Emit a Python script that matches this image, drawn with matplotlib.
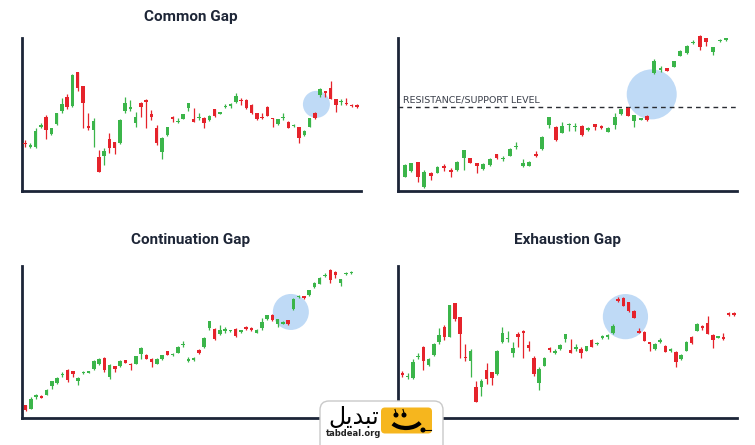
import matplotlib
matplotlib.use('Agg')
import matplotlib.pyplot as plt
from matplotlib.patches import Ellipse, FancyBboxPatch, Circle, Arc
import numpy as np

# ---- data (price units are arbitrary) ----
# Common Gap
common_open = [145, 133, 131, 193, 223, 170, 200, 240, 283, 255, 357, 315, 193, 183, 103, 105,
               155, 148, 143, 240, 247, 205, 263, 273, 230, 190, 116, 168, 221, 207, 217, 248,
               216, 218, 219, 213, 245, 232, 252, 255, 266, 273, 273, 258, 233, 221, 251, 218,
               200, 219, 208, 195, 191, 168, 193, 233, 288, 301, 308, 275, 267, 265, 259, 256]
common_high = [153, 145, 188, 205, 228, 190, 235, 280, 290, 351, 357, 315, 233, 218, 123, 128,
               175, 148, 215, 283, 273, 238, 268, 275, 243, 198, 163, 193, 225, 218, 232, 263,
               248, 233, 223, 228, 247, 238, 261, 263, 293, 278, 275, 260, 235, 235, 255, 218,
               217, 233, 210, 201, 191, 182, 220, 236, 308, 301, 331, 275, 275, 278, 261, 260]
common_low = [133, 128, 128, 188, 155, 168, 198, 233, 245, 253, 301, 190, 183, 133, 58, 78,
              113, 111, 141, 235, 240, 193, 223, 190, 213, 138, 95, 166, 208, 203, 215, 240,
              207, 213, 190, 211, 223, 230, 248, 248, 263, 258, 246, 231, 214, 217, 225, 191,
              198, 213, 188, 191, 145, 166, 191, 216, 283, 283, 277, 238, 258, 258, 253, 250]
common_close = [141, 137, 180, 198, 183, 188, 233, 261, 253, 349, 308, 263, 190, 211, 58, 121,
                128, 130, 213, 265, 251, 221, 253, 267, 221, 143, 158, 191, 215, 211, 230, 263,
                207, 223, 205, 226, 225, 236, 254, 260, 285, 269, 248, 233, 216, 218, 225, 215,
                215, 223, 190, 198, 160, 180, 218, 218, 305, 295, 277, 258, 270, 261, 255, 253]

# Breakaway gap (resistance / support)
level_open = [42, 59, 85, 12, 52, 54, 75, 62, 62, 97, 97, 82, 65, 77, 109, 95, 105, 130,
              74, 75, 109, 125, 197, 192, 174, 196, 191, 194, 182, 199, 195, 177, 197, 229,
              247, 210, 213, 224, 352, 362, 367, 372, 405, 412, 442, 464, 457, 417, 449, 452]
level_high = [79, 84, 87, 62, 57, 74, 80, 67, 89, 122, 99, 84, 82, 97, 111, 104, 127, 147,
              94, 89, 120, 164, 222, 194, 207, 204, 204, 196, 191, 199, 197, 191, 232, 246,
              250, 227, 219, 226, 394, 374, 369, 390, 422, 436, 452, 467, 457, 432, 454, 459]
level_low = [40, 57, 27, 7, 32, 52, 60, 42, 60, 62, 82, 52, 63, 75, 95, 90, 103, 125,
             72, 73, 102, 123, 187, 150, 172, 180, 180, 165, 180, 182, 186, 175, 184, 227,
             223, 192, 211, 210, 350, 357, 358, 370, 403, 410, 439, 422, 435, 407, 447, 450]
level_close = [77, 82, 42, 57, 44, 72, 67, 57, 87, 122, 84, 74, 80, 95, 97, 99, 125, 135,
               84, 87, 104, 162, 222, 152, 194, 200, 194, 167, 189, 192, 188, 189, 220, 244,
               225, 227, 217, 212, 389, 367, 360, 388, 420, 434, 445, 430, 447, 432, 452, 457]
resistance = 250

# Continuation Gap
cont_open = [39, 29, 64, 67, 71, 97, 106, 129, 144, 141, 111, 136, 137, 147, 162, 181, 124,
             156, 157, 174, 164, 164, 192, 191, 179, 164, 177, 201, 189, 197, 219, 172, 174,
             204, 214, 272, 269, 252, 261, 261, 269, 259, 274, 271, 257, 271, 297, 311, 284,
             284, 294, 327, 364, 366, 369, 394, 404, 427, 444, 439, 407, 433, 435]
cont_high = [41, 64, 74, 69, 88, 113, 124, 139, 149, 143, 123, 141, 143, 174, 181, 183, 163,
             158, 174, 176, 166, 188, 214, 193, 181, 181, 191, 203, 195, 216, 231, 184, 184,
             209, 243, 293, 271, 281, 274, 266, 271, 266, 276, 273, 268, 301, 311, 313, 299,
             291, 296, 361, 371, 368, 386, 409, 423, 437, 447, 441, 419, 438, 441]
cont_low = [22, 27, 59, 60, 69, 89, 104, 124, 109, 124, 99, 134, 135, 145, 160, 139, 119,
            139, 155, 165, 146, 162, 179, 177, 154, 162, 175, 189, 187, 195, 214, 170, 172,
            194, 212, 264, 235, 250, 257, 259, 245, 257, 265, 262, 255, 264, 295, 292, 274,
            282, 280, 325, 361, 359, 367, 392, 402, 425, 407, 421, 397, 431, 433]
cont_close = [24, 59, 69, 62, 86, 111, 122, 132, 114, 134, 121, 139, 141, 172, 179, 144, 161,
              149, 172, 167, 159, 186, 212, 179, 169, 179, 189, 191, 193, 214, 224, 179, 182,
              197, 241, 291, 237, 266, 267, 264, 247, 264, 267, 264, 266, 289, 309, 294, 297,
              289, 282, 357, 367, 361, 384, 407, 421, 431, 414, 429, 417, 436, 439]

# Exhaustion Gap
exh_open = [135, 123, 121, 183, 213, 160, 190, 230, 273, 245, 347, 305, 183, 173, 93, 95,
            145, 138, 133, 230, 237, 195, 253, 263, 220, 180, 106, 158, 211, 197, 207, 238,
            206, 208, 209, 203, 235, 222, 242, 245, 256, 357, 362, 348, 322, 260, 260, 227,
            208, 230, 217, 203, 200, 178, 203, 243, 263, 278, 285, 250, 242, 243, 315, 315]
exh_high = [143, 135, 178, 195, 218, 180, 225, 270, 280, 341, 347, 305, 223, 208, 113, 118,
            165, 138, 205, 273, 263, 228, 258, 265, 233, 188, 153, 183, 215, 208, 222, 253,
            238, 223, 213, 218, 237, 228, 251, 253, 283, 365, 365, 350, 324, 270, 263, 227,
            225, 242, 219, 210, 202, 192, 232, 248, 285, 280, 308, 252, 247, 255, 318, 318]
exh_low = [123, 118, 118, 178, 145, 158, 188, 223, 235, 243, 291, 180, 173, 123, 48, 68,
           103, 101, 131, 225, 230, 183, 213, 180, 203, 128, 85, 156, 198, 193, 205, 230,
           197, 203, 180, 201, 213, 220, 238, 238, 253, 348, 336, 320, 300, 255, 231, 203,
           206, 225, 198, 200, 155, 176, 201, 223, 261, 265, 253, 210, 240, 235, 307, 307]
exh_close = [131, 127, 170, 188, 173, 178, 223, 251, 243, 339, 298, 253, 180, 201, 48, 111,
             118, 120, 203, 255, 241, 211, 243, 257, 211, 133, 148, 181, 205, 201, 220, 253,
             197, 213, 195, 216, 215, 226, 244, 250, 278, 353, 338, 322, 302, 257, 233, 224,
             223, 235, 200, 207, 168, 190, 230, 225, 283, 270, 253, 235, 245, 237, 310, 311]

# ---- style ----
W, H = 755, 445
GREEN = '#3BB54A'
RED = '#E5232B'
NAVY = '#1C2538'
BLUE = '#BFDAF6'

fig = plt.figure(figsize=(W / 100, H / 100), dpi=100)
fig.patch.set_facecolor('white')


def add_panel(left, right, bottom, xlim, spine_h):
    ax = fig.add_axes([left / W, 1 - bottom / H, (right - left) / W, 160 / H])
    ax.set_xlim(*xlim)
    ax.set_ylim(0, 480)
    ax.patch.set_alpha(0)
    for s in ['top', 'right']:
        ax.spines[s].set_visible(False)
    for s in ['left', 'bottom']:
        ax.spines[s].set_color(NAVY)
        ax.spines[s].set_linewidth(2)
    ax.spines['left'].set_bounds(0, spine_h)
    ax.set_xticks([])
    ax.set_yticks([])
    return ax


def candles(ax, o, h, l, c, width):
    o, h, l, c = map(np.asarray, (o, h, l, c))
    x = np.arange(len(o))
    cols = np.where(c >= o, GREEN, RED)
    ax.vlines(x, l, h, colors=cols, linewidth=0.9, zorder=2)
    body = np.maximum(np.abs(c - o), 4)
    ax.bar(x, body, bottom=np.minimum(o, c), width=width, color=cols, linewidth=0, zorder=3)


def gap_circle(ax, xc, yc, r_px, spacing_px):
    ax.add_patch(Ellipse((xc, yc), 2 * r_px / spacing_px, 6 * r_px,
                         facecolor=BLUE, edgecolor='none', zorder=1))


title_kw = dict(fontsize=11, fontweight='bold', color='#1E2637', family='Roboto',
                ha='center', va='center')

# Common Gap
ax1 = add_panel(22, 361, 191, (-0.57, 63.76), 458)
gap_circle(ax1, 55.3, 260, 13.5, 5.27)
candles(ax1, common_open, common_high, common_low, common_close, 0.66)
fig.text(191 / W, 1 - 17 / H, 'Common Gap', **title_kw)

# Breakaway / resistance
ax2 = add_panel(398, 737, 190.7, (-1.02, 50.66), 457)
gap_circle(ax2, 37.66, 289, 25, 6.56)
ax2.axhline(resistance, color='#2A2D33', linewidth=1, dashes=(3.4, 2.9), zorder=2)
candles(ax2, level_open, level_high, level_low, level_close, 0.6)
ax2.text(-0.3, resistance + 16, 'RESISTANCE/SUPPORT LEVEL', fontsize=6.8,
         color='#3A3F4A', ha='left', va='baseline')

# Continuation Gap
ax3 = add_panel(22.3, 361, 418.3, (-0.65, 63.86), 458)
gap_circle(ax3, 50.5, 319, 18, 5.25)
candles(ax3, cont_open, cont_high, cont_low, cont_close, 0.66)
fig.text(191 / W, 1 - 239.5 / H, 'Continuation Gap', **title_kw)

# Exhaustion Gap
ax4 = add_panel(398, 737, 418.3, (-0.82, 63.6), 457)
gap_circle(ax4, 42.4, 305, 22.6, 5.26)
candles(ax4, exh_open, exh_high, exh_low, exh_close, 0.66)
fig.text(567 / W, 1 - 239.5 / H, 'Exhaustion Gap', **title_kw)

# logo badge at the bottom
lg = fig.add_axes([0, 0, 1, 1], zorder=10)
lg.set_xlim(0, W)
lg.set_ylim(H, 0)
lg.axis('off')
lg.patch.set_alpha(0)
lg.add_patch(FancyBboxPatch((320, 401), 123, 60, boxstyle='round,pad=0,rounding_size=9',
                            facecolor='white', edgecolor='#C9C9C9', linewidth=1))
lg.add_patch(FancyBboxPatch((381, 407.5), 51, 26, boxstyle='round,pad=0,rounding_size=4',
                            facecolor='#F6B61E', edgecolor='none'))
for cx in (396, 404):
    lg.add_patch(Circle((cx, 415), 1.8, color='black'))
    lg.plot([cx, cx - 1], [413, 409.5], color='black', lw=0.8)
# smile (y axis is inverted here, so 90 degrees points down)
lg.add_patch(Arc((406, 416), 34, 24, theta1=25, theta2=150, color='black', lw=3))
lg.add_patch(Circle((423, 430), 1.8, color='black'))
lg.plot([423, 431], [430, 430], color='black', lw=0.8)
lg.text(354, 417, '\uFEDE\uFEF3\uFEAA\uFE92\uFE97', fontsize=17, color='black',
        family='DejaVu Sans', ha='center', va='center')
lg.text(354, 434, 'tabdeal.org', fontsize=6, fontweight='bold', color='#222222',
        family='DejaVu Sans', ha='center', va='center')

fig.savefig('out.png', dpi=100, facecolor='white')
